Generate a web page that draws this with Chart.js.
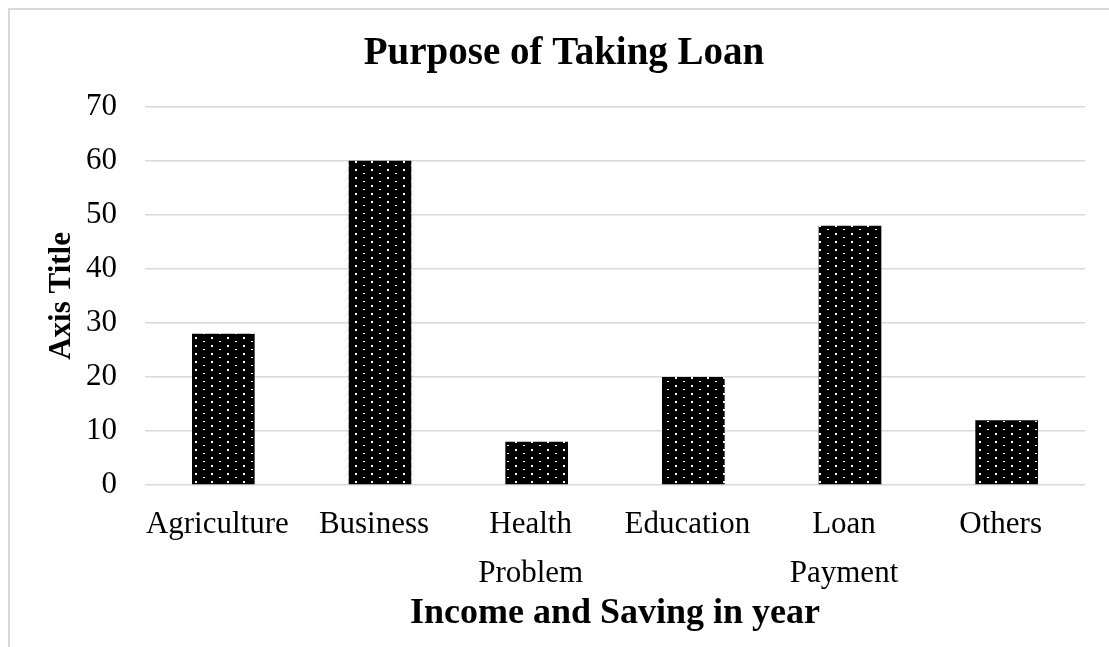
<!DOCTYPE html>
<html>
<head>
<meta charset="utf-8">
<script src="https://cdn.jsdelivr.net/npm/chart.js@4"></script>
<style>
  html, body { margin: 0; padding: 0; background: #fff; }
  #frame {
    position: absolute; left: 8px; top: 8px; width: 1200px; height: 700px;
    border-left: 2px solid #d9d9d9; border-top: 2px solid #d9d9d9;
  }
  #wrap { position: absolute; left: 0; top: 0; width: 1109px; height: 647px; }
</style>
</head>
<body>
<div id="frame"></div>
<div id="wrap"><canvas id="chart"></canvas></div>
<script>
// Data
const categories = ['Agriculture', 'Business', ['Health', 'Problem'], 'Education', ['Loan', 'Payment'], 'Others'];
const loanCounts = [28, 60, 8, 20, 48, 12];
const yMin = 0;
const yMax = 70;
const yStep = 10;

const FONT = "'Liberation Serif', 'Times New Roman', serif";

// black fill with small white dots, like the Excel pattern fill
function dottedPattern() {
  const c = document.createElement('canvas');
  c.width = 16;
  c.height = 8;
  const g = c.getContext('2d');
  g.fillStyle = '#000';
  g.fillRect(0, 0, 16, 8);
  g.fillStyle = '#fff';
  g.fillRect(3, 1, 2, 2);
  g.fillRect(11, 5, 2, 1);
  return g.createPattern(c, 'repeat');
}

Chart.defaults.font.family = FONT;
Chart.defaults.color = '#000';

const ctx = document.getElementById('chart').getContext('2d');
new Chart(ctx, {
  type: 'bar',
  data: {
    labels: categories,
    datasets: [{
      data: loanCounts,
      backgroundColor: dottedPattern(),
      borderWidth: 0,
      barPercentage: 0.4,
      categoryPercentage: 1.0,
    }],
  },
  options: {
    responsive: true,
    maintainAspectRatio: false,
    animation: false,
    layout: { padding: { left: 43, right: 24, top: 31, bottom: 12 } },
    plugins: {
      legend: { display: false },
      tooltip: { enabled: false },
      title: {
        display: true,
        text: 'Purpose of Taking Loan',
        font: { size: 39, weight: 'bold' },
        color: '#000',
        padding: { top: 0, bottom: 29 },
      },
    },
    scales: {
      x: {
        grid: { display: false },
        border: { display: false },
        ticks: {
          font: { size: 31, lineHeight: 1.58 },
          color: '#000',
          maxRotation: 0,
          autoSkip: false,
          padding: 7,
          labelOffset: -6,
        },
        title: {
          display: true,
          text: 'Income and Saving in year',
          font: { size: 36, weight: 'bold' },
          color: '#000',
          padding: { top: 0, bottom: 0 },
        },
        // fixed band below the plot, so the plot bottom lands where it does in the picture
        afterFit: scale => { scale.height = 150; },
      },
      y: {
        min: yMin,
        max: yMax,
        border: { display: false },
        grid: { color: '#d9d9d9', lineWidth: 1.5, drawTicks: false },
        ticks: {
          stepSize: yStep,
          font: { size: 31 },
          color: '#000',
          padding: 28,
        },
        title: {
          display: true,
          text: 'Axis Title',
          font: { size: 31, weight: 'bold' },
          color: '#000',
          padding: { top: 0, bottom: 0 },
        },
        afterFit: scale => { scale.width = 102; },
      },
    },
  },
});
</script>
</body>
</html>
